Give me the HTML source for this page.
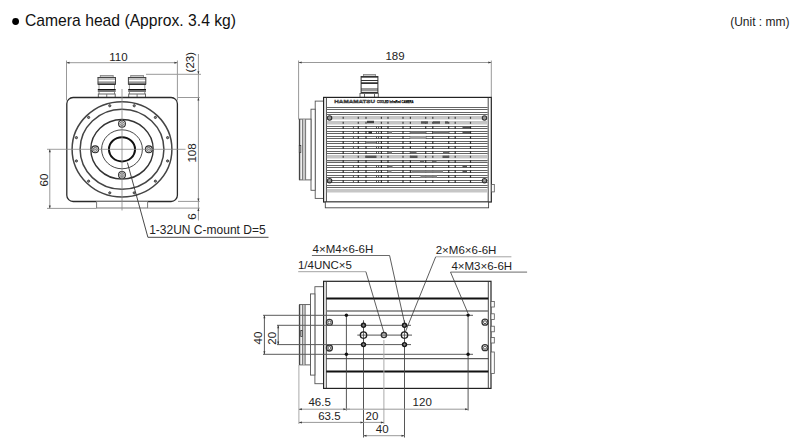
<!DOCTYPE html>
<html><head><meta charset="utf-8"><style>html,body{margin:0;padding:0;background:#fff;width:804px;height:444px;overflow:hidden}svg{display:block}text{font-family:"Liberation Sans",sans-serif}</style></head>
<body><svg width="804" height="444" font-family="Liberation Sans, sans-serif"><circle cx="15.6" cy="21.5" r="3.4" stroke="#333" stroke-width="0" fill="#000"/>
<text x="25" y="26.2" font-size="15.7" text-anchor="start" fill="#111">Camera head (Approx. 3.4 kg)</text>
<text x="789.5" y="26.3" font-size="12" text-anchor="end" fill="#222">(Unit : mm)</text>
<rect x="100.3" y="75.5" width="12.900000000000006" height="1.5" stroke="#888" stroke-width="0.9" fill="#fff" rx="0"/>
<rect x="97.8" y="77" width="17.900000000000006" height="1" fill="#444"/>
<rect x="97.8" y="78.6" width="17.900000000000006" height="0.8" fill="#666"/>
<rect x="97.8" y="81" width="17.900000000000006" height="1" fill="#bbb"/>
<rect x="97.8" y="82" width="17.900000000000006" height="1" fill="#999"/>
<rect x="97.8" y="83" width="17.900000000000006" height="1" fill="#777"/>
<rect x="97.8" y="84" width="17.900000000000006" height="1" fill="#333"/>
<rect x="97.5" y="77" width="1" height="7.5" fill="#444"/>
<rect x="115.0" y="77" width="1" height="7.5" fill="#444"/>
<rect x="98.5" y="85" width="1" height="4" fill="#999"/>
<rect x="114.0" y="85" width="1" height="4" fill="#999"/>
<rect x="97.8" y="89" width="17.900000000000006" height="1.6" fill="#111"/>
<rect x="97.8" y="91" width="17.900000000000006" height="1" fill="#777"/>
<rect x="98.5" y="92" width="1" height="2" fill="#888"/>
<rect x="114.0" y="92" width="1" height="2" fill="#888"/>
<rect x="98.3" y="94" width="16.900000000000006" height="3.4" stroke="#555" stroke-width="0.9" fill="#fff" rx="0"/>
<rect x="106.25" y="94" width="1" height="3.4" fill="#777"/>
<rect x="130.7" y="75.5" width="12.800000000000011" height="1.5" stroke="#888" stroke-width="0.9" fill="#fff" rx="0"/>
<rect x="128.2" y="77" width="17.80000000000001" height="1" fill="#444"/>
<rect x="128.2" y="78.6" width="17.80000000000001" height="0.8" fill="#666"/>
<rect x="128.2" y="81" width="17.80000000000001" height="1" fill="#bbb"/>
<rect x="128.2" y="82" width="17.80000000000001" height="1" fill="#999"/>
<rect x="128.2" y="83" width="17.80000000000001" height="1" fill="#777"/>
<rect x="128.2" y="84" width="17.80000000000001" height="1" fill="#333"/>
<rect x="127.89999999999999" y="77" width="1" height="7.5" fill="#444"/>
<rect x="145.3" y="77" width="1" height="7.5" fill="#444"/>
<rect x="128.89999999999998" y="85" width="1" height="4" fill="#999"/>
<rect x="144.3" y="85" width="1" height="4" fill="#999"/>
<rect x="128.2" y="89" width="17.80000000000001" height="1.6" fill="#111"/>
<rect x="128.2" y="91" width="17.80000000000001" height="1" fill="#777"/>
<rect x="128.89999999999998" y="92" width="1" height="2" fill="#888"/>
<rect x="144.3" y="92" width="1" height="2" fill="#888"/>
<rect x="128.7" y="94" width="16.80000000000001" height="3.4" stroke="#555" stroke-width="0.9" fill="#fff" rx="0"/>
<rect x="136.6" y="94" width="1" height="3.4" fill="#777"/>
<rect x="66.8" y="97.5" width="110.6" height="104" stroke="#2a2a2a" stroke-width="1.3" fill="#fff" rx="6.3"/>
<rect x="96.6" y="201.5" width="51" height="6.5" stroke="#777" stroke-width="1" fill="#fff" rx="0"/>
<ellipse cx="122" cy="149.3" rx="49.9" ry="47.65" stroke="#444" stroke-width="1.5" fill="none"/>
<circle cx="134.22" cy="105.76" r="1.1" stroke="#333" stroke-width="0.9" fill="#888"/>
<circle cx="155.38" cy="117.43" r="1.1" stroke="#333" stroke-width="0.9" fill="#888"/>
<circle cx="167.59" cy="137.63" r="1.1" stroke="#333" stroke-width="0.9" fill="#888"/>
<circle cx="167.59" cy="160.97" r="1.1" stroke="#333" stroke-width="0.9" fill="#888"/>
<circle cx="155.38" cy="181.17" r="1.1" stroke="#333" stroke-width="0.9" fill="#888"/>
<circle cx="134.22" cy="192.84" r="1.1" stroke="#333" stroke-width="0.9" fill="#888"/>
<circle cx="109.78" cy="192.84" r="1.1" stroke="#333" stroke-width="0.9" fill="#888"/>
<circle cx="88.62" cy="181.17" r="1.1" stroke="#333" stroke-width="0.9" fill="#888"/>
<circle cx="76.41" cy="160.97" r="1.1" stroke="#333" stroke-width="0.9" fill="#888"/>
<circle cx="76.41" cy="137.63" r="1.1" stroke="#333" stroke-width="0.9" fill="#888"/>
<circle cx="88.62" cy="117.43" r="1.1" stroke="#333" stroke-width="0.9" fill="#888"/>
<circle cx="109.78" cy="105.76" r="1.1" stroke="#333" stroke-width="0.9" fill="#888"/>
<ellipse cx="122" cy="149.3" rx="41.9" ry="40.01" stroke="#444" stroke-width="1.5" fill="none"/>
<ellipse cx="122" cy="149.3" rx="31.2" ry="29.8" stroke="#333" stroke-width="1.4" fill="none"/>
<circle cx="122.0" cy="123.71" r="3.4" stroke="#2a2a2a" stroke-width="1.1" fill="#fff"/>
<polygon points="124.20,123.71 123.10,125.61 120.90,125.61 119.80,123.71 120.90,121.80 123.10,121.80" stroke="#444" stroke-width="0.7" fill="none"/>
<path d="M120.80,122.51 L123.20,124.91 M123.20,122.51 L120.80,124.91" stroke="#666" stroke-width="0.6"/>
<circle cx="148.8" cy="149.3" r="3.4" stroke="#2a2a2a" stroke-width="1.1" fill="#fff"/>
<polygon points="151.00,149.30 149.90,151.21 147.70,151.21 146.60,149.30 147.70,147.39 149.90,147.39" stroke="#444" stroke-width="0.7" fill="none"/>
<path d="M147.60,148.10 L150.00,150.50 M150.00,148.10 L147.60,150.50" stroke="#666" stroke-width="0.6"/>
<circle cx="122.0" cy="174.89" r="3.4" stroke="#2a2a2a" stroke-width="1.1" fill="#fff"/>
<polygon points="124.20,174.89 123.10,176.80 120.90,176.80 119.80,174.89 120.90,172.99 123.10,172.99" stroke="#444" stroke-width="0.7" fill="none"/>
<path d="M120.80,173.69 L123.20,176.09 M123.20,173.69 L120.80,176.09" stroke="#666" stroke-width="0.6"/>
<circle cx="95.2" cy="149.3" r="3.4" stroke="#2a2a2a" stroke-width="1.1" fill="#fff"/>
<polygon points="97.40,149.30 96.30,151.21 94.10,151.21 93.00,149.30 94.10,147.39 96.30,147.39" stroke="#444" stroke-width="0.7" fill="none"/>
<path d="M94.00,148.10 L96.40,150.50 M96.40,148.10 L94.00,150.50" stroke="#666" stroke-width="0.6"/>
<ellipse cx="122" cy="149.3" rx="20.4" ry="19.48" stroke="#333" stroke-width="0.9" fill="none"/>
<ellipse cx="122" cy="149.3" rx="13.05" ry="12.14" stroke="#111" stroke-width="2.0" fill="none"/>
<line x1="122" y1="89" x2="122" y2="210.5" stroke="#888" stroke-width="0.8"/>
<line x1="47" y1="149.3" x2="185.5" y2="149.3" stroke="#888" stroke-width="0.8"/>
<line x1="66.5" y1="60.5" x2="66.5" y2="100.5" stroke="#999" stroke-width="1.0"/>
<line x1="177.4" y1="60.5" x2="177.4" y2="100.5" stroke="#999" stroke-width="1.0"/>
<line x1="66.5" y1="62.7" x2="177.4" y2="62.7" stroke="#999" stroke-width="1.0"/>
<path d="M66.5,62.7 L69.5,61.7 L69.5,63.7 Z" fill="#3a3a3a"/>
<path d="M177.4,62.7 L174.4,61.7 L174.4,63.7 Z" fill="#3a3a3a"/>
<text x="109.2" y="60.6" font-size="11.5" text-anchor="start" fill="#222">110</text>
<line x1="198.4" y1="54" x2="198.4" y2="220.5" stroke="#999" stroke-width="1.0"/>
<line x1="146" y1="74.3" x2="201" y2="74.3" stroke="#999" stroke-width="1.0"/>
<line x1="178" y1="97.5" x2="199.8" y2="97.5" stroke="#999" stroke-width="1.0"/>
<line x1="178" y1="201.4" x2="199.8" y2="201.4" stroke="#999" stroke-width="1.0"/>
<line x1="147.8" y1="208.1" x2="199.8" y2="208.1" stroke="#999" stroke-width="1.0"/>
<path d="M198.4,74.3 L197.4,71.3 L199.4,71.3 Z" fill="#3a3a3a"/>
<path d="M198.4,97.5 L197.4,100.5 L199.4,100.5 Z" fill="#3a3a3a"/>
<path d="M198.4,201.4 L197.4,198.4 L199.4,198.4 Z" fill="#3a3a3a"/>
<path d="M198.4,208.1 L197.4,211.1 L199.4,211.1 Z" fill="#3a3a3a"/>
<text x="193.9" y="62.2" font-size="11.5" text-anchor="middle" fill="#222" transform="rotate(-90 193.9 62.2)">(23)</text>
<text x="196.3" y="153" font-size="11.5" text-anchor="middle" fill="#222" transform="rotate(-90 196.3 153)">108</text>
<text x="196.3" y="216.5" font-size="11.5" text-anchor="middle" fill="#222" transform="rotate(-90 196.3 216.5)">6</text>
<line x1="49.8" y1="149.3" x2="49.8" y2="208.4" stroke="#999" stroke-width="1.0"/>
<line x1="47" y1="208.4" x2="96.6" y2="208.4" stroke="#999" stroke-width="1.0"/>
<path d="M49.8,149.3 L48.8,152.3 L50.8,152.3 Z" fill="#3a3a3a"/>
<path d="M49.8,208.4 L48.8,205.4 L50.8,205.4 Z" fill="#3a3a3a"/>
<text x="47.5" y="180" font-size="11.5" text-anchor="middle" fill="#222" transform="rotate(-90 47.5 180)">60</text>
<line x1="127.4" y1="162.6" x2="147.9" y2="237.3" stroke="#333" stroke-width="0.9"/>
<line x1="147.9" y1="237.3" x2="268.5" y2="237.3" stroke="#333" stroke-width="0.9"/>
<text x="149.2" y="234.4" font-size="12" text-anchor="start" fill="#222">1-32UN C-mount D=5</text>
<line x1="298.6" y1="60.5" x2="298.6" y2="119.5" stroke="#999" stroke-width="1.0"/>
<line x1="491.3" y1="60.5" x2="491.3" y2="97" stroke="#999" stroke-width="1.0"/>
<line x1="298.6" y1="62.5" x2="491.3" y2="62.5" stroke="#999" stroke-width="1.0"/>
<path d="M298.6,62.5 L301.6,61.5 L301.6,63.5 Z" fill="#3a3a3a"/>
<path d="M491.3,62.5 L488.3,61.5 L488.3,63.5 Z" fill="#3a3a3a"/>
<text x="395" y="59.6" font-size="11.5" text-anchor="middle" fill="#222">189</text>
<rect x="363" y="74" width="13" height="2" fill="#fff"/>
<rect x="363.5" y="74.5" width="12" height="1.5" stroke="#888" stroke-width="0.9" fill="none" rx="0"/>
<rect x="361" y="76" width="17" height="16.5" fill="#fff"/>
<rect x="361" y="76" width="17" height="1" fill="#333"/>
<rect x="361" y="77" width="17" height="1" fill="#777"/>
<rect x="361" y="80" width="17" height="1" fill="#333"/>
<rect x="361" y="82" width="17" height="1" fill="#666"/>
<rect x="361" y="83" width="17" height="1" fill="#333"/>
<rect x="361" y="88" width="17" height="3.3" fill="#999"/>
<rect x="361" y="92" width="17" height="1" fill="#333"/>
<rect x="360.6" y="76" width="1" height="17" fill="#333"/>
<rect x="377.4" y="76" width="1" height="17" fill="#333"/>
<rect x="360" y="93.5" width="18.3" height="3.8" stroke="#555" stroke-width="0.9" fill="#fff" rx="0"/>
<rect x="364" y="93.5" width="1" height="4" fill="#666"/>
<rect x="374" y="93.5" width="1" height="4" fill="#666"/>
<rect x="315.2" y="101.1" width="8.3" height="97.3" stroke="#555" stroke-width="0.9" fill="#fff" rx="0"/>
<rect x="311" y="109.2" width="4.2" height="81.1" stroke="#555" stroke-width="0.9" fill="#fff" rx="0"/>
<rect x="299.4" y="119.1" width="11.6" height="60.8" stroke="#555" stroke-width="0.9" fill="#fff" rx="0"/>
<rect x="302.5" y="119.6" width="3" height="59.8" fill="#c8c8c8"/>
<line x1="299.6" y1="119.3" x2="299.6" y2="179.8" stroke="#444" stroke-width="1.4"/>
<line x1="302.4" y1="119.3" x2="302.4" y2="179.8" stroke="#555" stroke-width="0.8"/>
<line x1="305.6" y1="119.3" x2="305.6" y2="179.8" stroke="#555" stroke-width="0.8"/>
<rect x="299.3" y="145.5" width="1.5" height="7" stroke="#333" stroke-width="0.8" fill="#fff" rx="0"/>
<rect x="323.6" y="97.4" width="167.7" height="104.6" stroke="#222" stroke-width="1.2" fill="#fff" rx="0"/>
<line x1="326.4" y1="97.4" x2="326.4" y2="202" stroke="#333" stroke-width="0.9"/>
<line x1="488.2" y1="97.4" x2="488.2" y2="202" stroke="#333" stroke-width="0.9"/>
<rect x="325.3" y="202" width="163.3" height="5.8" stroke="#444" stroke-width="0.9" fill="#fff" rx="0"/>
<rect x="491.5" y="184.5" width="2.8" height="7.4" stroke="#555" stroke-width="0.8" fill="#fff" rx="0"/>
<text x="334.3" y="102.7" font-size="4.4" font-weight="bold" fill="#777" textLength="40.8" lengthAdjust="spacingAndGlyphs" stroke="#333" stroke-width="0.35">HAMAMATSU</text>
<text x="377" y="102.6" font-size="4.0" font-weight="bold" fill="#000" textLength="36.5" lengthAdjust="spacingAndGlyphs" stroke="#000" stroke-width="0.25">COOLED InfraRed CAMERA</text>
<line x1="326.9" y1="107.5" x2="487.7" y2="107.5" stroke="#666" stroke-width="1"/>
<line x1="326.9" y1="109.5" x2="487.7" y2="109.5" stroke="#666" stroke-width="1"/>
<line x1="326.9" y1="112.5" x2="487.7" y2="112.5" stroke="#666" stroke-width="1"/>
<line x1="326.9" y1="114.5" x2="487.7" y2="114.5" stroke="#666" stroke-width="1"/>
<line x1="326.9" y1="185.5" x2="487.7" y2="185.5" stroke="#666" stroke-width="1"/>
<line x1="326.9" y1="187.5" x2="487.7" y2="187.5" stroke="#666" stroke-width="1"/>
<rect x="326.9" y="116" width="160.8" height="3.5" fill="#c6c6c6"/>
<rect x="326.9" y="121" width="160.8" height="3.5" fill="#c6c6c6"/>
<rect x="326.9" y="155" width="160.8" height="3.5" fill="#c6c6c6"/>
<rect x="326.9" y="189" width="160.8" height="3.5" fill="#c6c6c6"/>
<rect x="326.9" y="160" width="160.8" height="3" fill="#d0d0d0"/>
<line x1="326.9" y1="126.5" x2="487.7" y2="126.5" stroke="#666" stroke-width="1"/>
<line x1="326.9" y1="128.5" x2="487.7" y2="128.5" stroke="#666" stroke-width="1"/>
<line x1="326.9" y1="131.5" x2="487.7" y2="131.5" stroke="#666" stroke-width="1"/>
<line x1="326.9" y1="133.5" x2="487.7" y2="133.5" stroke="#666" stroke-width="1"/>
<line x1="326.9" y1="136.5" x2="487.7" y2="136.5" stroke="#666" stroke-width="1"/>
<line x1="326.9" y1="138.5" x2="487.7" y2="138.5" stroke="#666" stroke-width="1"/>
<line x1="326.9" y1="141.5" x2="487.7" y2="141.5" stroke="#666" stroke-width="1"/>
<line x1="326.9" y1="143.5" x2="487.7" y2="143.5" stroke="#666" stroke-width="1"/>
<line x1="326.9" y1="146.5" x2="487.7" y2="146.5" stroke="#666" stroke-width="1"/>
<line x1="326.9" y1="148.5" x2="487.7" y2="148.5" stroke="#666" stroke-width="1"/>
<line x1="326.9" y1="151.5" x2="487.7" y2="151.5" stroke="#666" stroke-width="1"/>
<line x1="326.9" y1="153.5" x2="487.7" y2="153.5" stroke="#666" stroke-width="1"/>
<line x1="326.9" y1="160.5" x2="487.7" y2="160.5" stroke="#666" stroke-width="1"/>
<line x1="326.9" y1="162.5" x2="487.7" y2="162.5" stroke="#666" stroke-width="1"/>
<line x1="326.9" y1="165.5" x2="487.7" y2="165.5" stroke="#666" stroke-width="1"/>
<line x1="326.9" y1="167.5" x2="487.7" y2="167.5" stroke="#666" stroke-width="1"/>
<line x1="326.9" y1="170.5" x2="487.7" y2="170.5" stroke="#666" stroke-width="1"/>
<line x1="326.9" y1="172.5" x2="487.7" y2="172.5" stroke="#666" stroke-width="1"/>
<line x1="326.9" y1="175.5" x2="487.7" y2="175.5" stroke="#666" stroke-width="1"/>
<line x1="326.9" y1="177.5" x2="487.7" y2="177.5" stroke="#666" stroke-width="1"/>
<line x1="326.9" y1="180.5" x2="487.7" y2="180.5" stroke="#666" stroke-width="1"/>
<line x1="326.9" y1="182.5" x2="487.7" y2="182.5" stroke="#666" stroke-width="1"/>
<rect x="342.59999999999997" y="126.0" width="1.2" height="3" fill="#333"/>
<rect x="342.59999999999997" y="131.0" width="1.2" height="3" fill="#333"/>
<rect x="342.59999999999997" y="136.0" width="1.2" height="3" fill="#333"/>
<rect x="342.59999999999997" y="141.0" width="1.2" height="3" fill="#333"/>
<rect x="342.59999999999997" y="146.0" width="1.2" height="3" fill="#333"/>
<rect x="342.59999999999997" y="151.0" width="1.2" height="3" fill="#333"/>
<rect x="342.59999999999997" y="160.0" width="1.2" height="3" fill="#333"/>
<rect x="342.59999999999997" y="165.0" width="1.2" height="3" fill="#333"/>
<rect x="342.59999999999997" y="170.0" width="1.2" height="3" fill="#333"/>
<rect x="342.59999999999997" y="175.0" width="1.2" height="3" fill="#333"/>
<rect x="342.59999999999997" y="180.0" width="1.2" height="3" fill="#333"/>
<rect x="342.59999999999997" y="116.8" width="1.2" height="2" fill="#444"/>
<rect x="342.59999999999997" y="121.8" width="1.2" height="2" fill="#444"/>
<rect x="342.59999999999997" y="155.8" width="1.2" height="2" fill="#444"/>
<rect x="357.7" y="126.0" width="1.2" height="3" fill="#333"/>
<rect x="357.7" y="131.0" width="1.2" height="3" fill="#333"/>
<rect x="357.7" y="136.0" width="1.2" height="3" fill="#333"/>
<rect x="357.7" y="141.0" width="1.2" height="3" fill="#333"/>
<rect x="357.7" y="146.0" width="1.2" height="3" fill="#333"/>
<rect x="357.7" y="151.0" width="1.2" height="3" fill="#333"/>
<rect x="357.7" y="160.0" width="1.2" height="3" fill="#333"/>
<rect x="357.7" y="165.0" width="1.2" height="3" fill="#333"/>
<rect x="357.7" y="170.0" width="1.2" height="3" fill="#333"/>
<rect x="357.7" y="175.0" width="1.2" height="3" fill="#333"/>
<rect x="357.7" y="180.0" width="1.2" height="3" fill="#333"/>
<rect x="357.7" y="116.8" width="1.2" height="2" fill="#444"/>
<rect x="357.7" y="121.8" width="1.2" height="2" fill="#444"/>
<rect x="357.7" y="155.8" width="1.2" height="2" fill="#444"/>
<rect x="365.4" y="126.0" width="1.2" height="3" fill="#333"/>
<rect x="365.4" y="131.0" width="1.2" height="3" fill="#333"/>
<rect x="365.4" y="136.0" width="1.2" height="3" fill="#333"/>
<rect x="365.4" y="141.0" width="1.2" height="3" fill="#333"/>
<rect x="365.4" y="146.0" width="1.2" height="3" fill="#333"/>
<rect x="365.4" y="151.0" width="1.2" height="3" fill="#333"/>
<rect x="365.4" y="160.0" width="1.2" height="3" fill="#333"/>
<rect x="365.4" y="165.0" width="1.2" height="3" fill="#333"/>
<rect x="365.4" y="170.0" width="1.2" height="3" fill="#333"/>
<rect x="365.4" y="175.0" width="1.2" height="3" fill="#333"/>
<rect x="365.4" y="180.0" width="1.2" height="3" fill="#333"/>
<rect x="365.4" y="116.8" width="1.2" height="2" fill="#444"/>
<rect x="365.4" y="121.8" width="1.2" height="2" fill="#444"/>
<rect x="365.4" y="155.8" width="1.2" height="2" fill="#444"/>
<rect x="380.79999999999995" y="126.0" width="1.2" height="3" fill="#333"/>
<rect x="380.79999999999995" y="131.0" width="1.2" height="3" fill="#333"/>
<rect x="380.79999999999995" y="136.0" width="1.2" height="3" fill="#333"/>
<rect x="380.79999999999995" y="141.0" width="1.2" height="3" fill="#333"/>
<rect x="380.79999999999995" y="146.0" width="1.2" height="3" fill="#333"/>
<rect x="380.79999999999995" y="151.0" width="1.2" height="3" fill="#333"/>
<rect x="380.79999999999995" y="160.0" width="1.2" height="3" fill="#333"/>
<rect x="380.79999999999995" y="165.0" width="1.2" height="3" fill="#333"/>
<rect x="380.79999999999995" y="170.0" width="1.2" height="3" fill="#333"/>
<rect x="380.79999999999995" y="175.0" width="1.2" height="3" fill="#333"/>
<rect x="380.79999999999995" y="180.0" width="1.2" height="3" fill="#333"/>
<rect x="380.79999999999995" y="116.8" width="1.2" height="2" fill="#444"/>
<rect x="380.79999999999995" y="121.8" width="1.2" height="2" fill="#444"/>
<rect x="380.79999999999995" y="155.8" width="1.2" height="2" fill="#444"/>
<rect x="387.4" y="126.0" width="1.2" height="3" fill="#333"/>
<rect x="387.4" y="131.0" width="1.2" height="3" fill="#333"/>
<rect x="387.4" y="136.0" width="1.2" height="3" fill="#333"/>
<rect x="387.4" y="141.0" width="1.2" height="3" fill="#333"/>
<rect x="387.4" y="146.0" width="1.2" height="3" fill="#333"/>
<rect x="387.4" y="151.0" width="1.2" height="3" fill="#333"/>
<rect x="387.4" y="160.0" width="1.2" height="3" fill="#333"/>
<rect x="387.4" y="165.0" width="1.2" height="3" fill="#333"/>
<rect x="387.4" y="170.0" width="1.2" height="3" fill="#333"/>
<rect x="387.4" y="175.0" width="1.2" height="3" fill="#333"/>
<rect x="387.4" y="180.0" width="1.2" height="3" fill="#333"/>
<rect x="387.4" y="116.8" width="1.2" height="2" fill="#444"/>
<rect x="387.4" y="121.8" width="1.2" height="2" fill="#444"/>
<rect x="387.4" y="155.8" width="1.2" height="2" fill="#444"/>
<rect x="402.4" y="126.0" width="1.2" height="3" fill="#333"/>
<rect x="402.4" y="131.0" width="1.2" height="3" fill="#333"/>
<rect x="402.4" y="136.0" width="1.2" height="3" fill="#333"/>
<rect x="402.4" y="141.0" width="1.2" height="3" fill="#333"/>
<rect x="402.4" y="146.0" width="1.2" height="3" fill="#333"/>
<rect x="402.4" y="151.0" width="1.2" height="3" fill="#333"/>
<rect x="402.4" y="160.0" width="1.2" height="3" fill="#333"/>
<rect x="402.4" y="165.0" width="1.2" height="3" fill="#333"/>
<rect x="402.4" y="170.0" width="1.2" height="3" fill="#333"/>
<rect x="402.4" y="175.0" width="1.2" height="3" fill="#333"/>
<rect x="402.4" y="180.0" width="1.2" height="3" fill="#333"/>
<rect x="402.4" y="116.8" width="1.2" height="2" fill="#444"/>
<rect x="402.4" y="121.8" width="1.2" height="2" fill="#444"/>
<rect x="402.4" y="155.8" width="1.2" height="2" fill="#444"/>
<rect x="409.79999999999995" y="126.0" width="1.2" height="3" fill="#333"/>
<rect x="409.79999999999995" y="131.0" width="1.2" height="3" fill="#333"/>
<rect x="409.79999999999995" y="136.0" width="1.2" height="3" fill="#333"/>
<rect x="409.79999999999995" y="141.0" width="1.2" height="3" fill="#333"/>
<rect x="409.79999999999995" y="146.0" width="1.2" height="3" fill="#333"/>
<rect x="409.79999999999995" y="151.0" width="1.2" height="3" fill="#333"/>
<rect x="409.79999999999995" y="160.0" width="1.2" height="3" fill="#333"/>
<rect x="409.79999999999995" y="165.0" width="1.2" height="3" fill="#333"/>
<rect x="409.79999999999995" y="170.0" width="1.2" height="3" fill="#333"/>
<rect x="409.79999999999995" y="175.0" width="1.2" height="3" fill="#333"/>
<rect x="409.79999999999995" y="180.0" width="1.2" height="3" fill="#333"/>
<rect x="409.79999999999995" y="116.8" width="1.2" height="2" fill="#444"/>
<rect x="409.79999999999995" y="121.8" width="1.2" height="2" fill="#444"/>
<rect x="409.79999999999995" y="155.8" width="1.2" height="2" fill="#444"/>
<rect x="425.09999999999997" y="126.0" width="1.2" height="3" fill="#333"/>
<rect x="425.09999999999997" y="131.0" width="1.2" height="3" fill="#333"/>
<rect x="425.09999999999997" y="136.0" width="1.2" height="3" fill="#333"/>
<rect x="425.09999999999997" y="141.0" width="1.2" height="3" fill="#333"/>
<rect x="425.09999999999997" y="146.0" width="1.2" height="3" fill="#333"/>
<rect x="425.09999999999997" y="151.0" width="1.2" height="3" fill="#333"/>
<rect x="425.09999999999997" y="160.0" width="1.2" height="3" fill="#333"/>
<rect x="425.09999999999997" y="165.0" width="1.2" height="3" fill="#333"/>
<rect x="425.09999999999997" y="170.0" width="1.2" height="3" fill="#333"/>
<rect x="425.09999999999997" y="175.0" width="1.2" height="3" fill="#333"/>
<rect x="425.09999999999997" y="180.0" width="1.2" height="3" fill="#333"/>
<rect x="425.09999999999997" y="116.8" width="1.2" height="2" fill="#444"/>
<rect x="425.09999999999997" y="121.8" width="1.2" height="2" fill="#444"/>
<rect x="425.09999999999997" y="155.8" width="1.2" height="2" fill="#444"/>
<rect x="432.2" y="126.0" width="1.2" height="3" fill="#333"/>
<rect x="432.2" y="131.0" width="1.2" height="3" fill="#333"/>
<rect x="432.2" y="136.0" width="1.2" height="3" fill="#333"/>
<rect x="432.2" y="141.0" width="1.2" height="3" fill="#333"/>
<rect x="432.2" y="146.0" width="1.2" height="3" fill="#333"/>
<rect x="432.2" y="151.0" width="1.2" height="3" fill="#333"/>
<rect x="432.2" y="160.0" width="1.2" height="3" fill="#333"/>
<rect x="432.2" y="165.0" width="1.2" height="3" fill="#333"/>
<rect x="432.2" y="170.0" width="1.2" height="3" fill="#333"/>
<rect x="432.2" y="175.0" width="1.2" height="3" fill="#333"/>
<rect x="432.2" y="180.0" width="1.2" height="3" fill="#333"/>
<rect x="432.2" y="116.8" width="1.2" height="2" fill="#444"/>
<rect x="432.2" y="121.8" width="1.2" height="2" fill="#444"/>
<rect x="432.2" y="155.8" width="1.2" height="2" fill="#444"/>
<rect x="448.09999999999997" y="126.0" width="1.2" height="3" fill="#333"/>
<rect x="448.09999999999997" y="131.0" width="1.2" height="3" fill="#333"/>
<rect x="448.09999999999997" y="136.0" width="1.2" height="3" fill="#333"/>
<rect x="448.09999999999997" y="141.0" width="1.2" height="3" fill="#333"/>
<rect x="448.09999999999997" y="146.0" width="1.2" height="3" fill="#333"/>
<rect x="448.09999999999997" y="151.0" width="1.2" height="3" fill="#333"/>
<rect x="448.09999999999997" y="160.0" width="1.2" height="3" fill="#333"/>
<rect x="448.09999999999997" y="165.0" width="1.2" height="3" fill="#333"/>
<rect x="448.09999999999997" y="170.0" width="1.2" height="3" fill="#333"/>
<rect x="448.09999999999997" y="175.0" width="1.2" height="3" fill="#333"/>
<rect x="448.09999999999997" y="180.0" width="1.2" height="3" fill="#333"/>
<rect x="448.09999999999997" y="116.8" width="1.2" height="2" fill="#444"/>
<rect x="448.09999999999997" y="121.8" width="1.2" height="2" fill="#444"/>
<rect x="448.09999999999997" y="155.8" width="1.2" height="2" fill="#444"/>
<rect x="454.59999999999997" y="126.0" width="1.2" height="3" fill="#333"/>
<rect x="454.59999999999997" y="131.0" width="1.2" height="3" fill="#333"/>
<rect x="454.59999999999997" y="136.0" width="1.2" height="3" fill="#333"/>
<rect x="454.59999999999997" y="141.0" width="1.2" height="3" fill="#333"/>
<rect x="454.59999999999997" y="146.0" width="1.2" height="3" fill="#333"/>
<rect x="454.59999999999997" y="151.0" width="1.2" height="3" fill="#333"/>
<rect x="454.59999999999997" y="160.0" width="1.2" height="3" fill="#333"/>
<rect x="454.59999999999997" y="165.0" width="1.2" height="3" fill="#333"/>
<rect x="454.59999999999997" y="170.0" width="1.2" height="3" fill="#333"/>
<rect x="454.59999999999997" y="175.0" width="1.2" height="3" fill="#333"/>
<rect x="454.59999999999997" y="180.0" width="1.2" height="3" fill="#333"/>
<rect x="454.59999999999997" y="116.8" width="1.2" height="2" fill="#444"/>
<rect x="454.59999999999997" y="121.8" width="1.2" height="2" fill="#444"/>
<rect x="454.59999999999997" y="155.8" width="1.2" height="2" fill="#444"/>
<rect x="469.9" y="126.0" width="1.2" height="3" fill="#333"/>
<rect x="469.9" y="131.0" width="1.2" height="3" fill="#333"/>
<rect x="469.9" y="136.0" width="1.2" height="3" fill="#333"/>
<rect x="469.9" y="141.0" width="1.2" height="3" fill="#333"/>
<rect x="469.9" y="146.0" width="1.2" height="3" fill="#333"/>
<rect x="469.9" y="151.0" width="1.2" height="3" fill="#333"/>
<rect x="469.9" y="160.0" width="1.2" height="3" fill="#333"/>
<rect x="469.9" y="165.0" width="1.2" height="3" fill="#333"/>
<rect x="469.9" y="170.0" width="1.2" height="3" fill="#333"/>
<rect x="469.9" y="175.0" width="1.2" height="3" fill="#333"/>
<rect x="469.9" y="180.0" width="1.2" height="3" fill="#333"/>
<rect x="469.9" y="116.8" width="1.2" height="2" fill="#444"/>
<rect x="469.9" y="121.8" width="1.2" height="2" fill="#444"/>
<rect x="469.9" y="155.8" width="1.2" height="2" fill="#444"/>
<rect x="352.9" y="126.0" width="1" height="3" fill="#555"/>
<rect x="352.9" y="131.0" width="1" height="3" fill="#555"/>
<rect x="352.9" y="136.0" width="1" height="3" fill="#555"/>
<rect x="352.9" y="141.0" width="1" height="3" fill="#555"/>
<rect x="352.9" y="146.0" width="1" height="3" fill="#555"/>
<rect x="352.9" y="151.0" width="1" height="3" fill="#555"/>
<rect x="352.9" y="165.0" width="1" height="3" fill="#555"/>
<rect x="352.9" y="170.0" width="1" height="3" fill="#555"/>
<rect x="352.9" y="175.0" width="1" height="3" fill="#555"/>
<rect x="352.9" y="180.0" width="1" height="3" fill="#555"/>
<rect x="376.0" y="126.0" width="1" height="3" fill="#555"/>
<rect x="376.0" y="131.0" width="1" height="3" fill="#555"/>
<rect x="376.0" y="136.0" width="1" height="3" fill="#555"/>
<rect x="376.0" y="141.0" width="1" height="3" fill="#555"/>
<rect x="376.0" y="146.0" width="1" height="3" fill="#555"/>
<rect x="376.0" y="151.0" width="1" height="3" fill="#555"/>
<rect x="376.0" y="165.0" width="1" height="3" fill="#555"/>
<rect x="376.0" y="170.0" width="1" height="3" fill="#555"/>
<rect x="376.0" y="175.0" width="1" height="3" fill="#555"/>
<rect x="376.0" y="180.0" width="1" height="3" fill="#555"/>
<rect x="378.1" y="126.0" width="1" height="3" fill="#555"/>
<rect x="378.1" y="131.0" width="1" height="3" fill="#555"/>
<rect x="378.1" y="136.0" width="1" height="3" fill="#555"/>
<rect x="378.1" y="141.0" width="1" height="3" fill="#555"/>
<rect x="378.1" y="146.0" width="1" height="3" fill="#555"/>
<rect x="378.1" y="151.0" width="1" height="3" fill="#555"/>
<rect x="378.1" y="165.0" width="1" height="3" fill="#555"/>
<rect x="378.1" y="170.0" width="1" height="3" fill="#555"/>
<rect x="378.1" y="175.0" width="1" height="3" fill="#555"/>
<rect x="378.1" y="180.0" width="1" height="3" fill="#555"/>
<rect x="367" y="120.8" width="7" height="2.4" fill="#444"/>
<rect x="368.5" y="131.3" width="3.5" height="2.4" fill="#333"/>
<rect x="388.5" y="131.3" width="3.5" height="2.4" fill="#888"/>
<rect x="366" y="141.3" width="10" height="2.4" fill="#888"/>
<rect x="388.5" y="151.3" width="3.5" height="2.4" fill="#777"/>
<rect x="365.5" y="155.60000000000002" width="11.0" height="2.4" fill="#555"/>
<rect x="410" y="131.3" width="16" height="2.4" fill="#777"/>
<rect x="433" y="131.3" width="16" height="2.4" fill="#777"/>
<rect x="410" y="136.3" width="16" height="2.4" fill="#aaa"/>
<rect x="462.5" y="126.3" width="7.5" height="2.4" fill="#555"/>
<rect x="462.5" y="131.3" width="7.5" height="2.4" fill="#555"/>
<rect x="410" y="151.3" width="6.5" height="2.4" fill="#666"/>
<rect x="443" y="151.3" width="6" height="2.4" fill="#666"/>
<rect x="410" y="155.60000000000002" width="7.5" height="2.4" fill="#555"/>
<rect x="442.5" y="155.60000000000002" width="6.5" height="2.4" fill="#555"/>
<rect x="420" y="160.3" width="4" height="2.4" fill="#666"/>
<rect x="432" y="160.3" width="4.5" height="2.4" fill="#666"/>
<rect x="388.5" y="165.3" width="4.0" height="2.4" fill="#777"/>
<rect x="462.5" y="165.3" width="4.5" height="2.4" fill="#555"/>
<rect x="388" y="170.3" width="3.5" height="2.4" fill="#888"/>
<rect x="411.5" y="170.3" width="31.5" height="2.4" fill="#888"/>
<rect x="462.5" y="170.3" width="4.5" height="2.4" fill="#555"/>
<rect x="420.5" y="175.3" width="16.5" height="2.4" fill="#888"/>
<rect x="421" y="121.3" width="7" height="2.4" fill="#555"/>
<rect x="433" y="121.3" width="7" height="2.4" fill="#555"/>
<rect x="445" y="121.3" width="3" height="2.4" fill="#555"/>
<circle cx="329.6" cy="118" r="2.1" stroke="#333" stroke-width="1.3" fill="#fff"/>
<circle cx="329.6" cy="118" r="0.9" stroke="#555" stroke-width="0.9" fill="none"/>
<circle cx="484.5" cy="118" r="2.1" stroke="#333" stroke-width="1.3" fill="#fff"/>
<circle cx="484.5" cy="118" r="0.9" stroke="#555" stroke-width="0.9" fill="none"/>
<circle cx="329.6" cy="180.8" r="2.1" stroke="#333" stroke-width="1.3" fill="#fff"/>
<circle cx="329.6" cy="180.8" r="0.9" stroke="#555" stroke-width="0.9" fill="none"/>
<circle cx="484.5" cy="180.8" r="2.1" stroke="#333" stroke-width="1.3" fill="#fff"/>
<circle cx="484.5" cy="180.8" r="0.9" stroke="#555" stroke-width="0.9" fill="none"/>
<rect x="314.9" y="286.7" width="8.6" height="97" stroke="#555" stroke-width="0.9" fill="#fff" rx="0"/>
<rect x="310.5" y="293.9" width="4.4" height="81.2" stroke="#555" stroke-width="0.9" fill="#fff" rx="0"/>
<rect x="299.4" y="304.6" width="11.1" height="60.3" stroke="#555" stroke-width="0.9" fill="#fff" rx="0"/>
<rect x="302.5" y="305" width="2.6" height="59.5" fill="#c8c8c8"/>
<line x1="299.6" y1="304.8" x2="299.6" y2="364.8" stroke="#444" stroke-width="1.4"/>
<line x1="302.4" y1="304.8" x2="302.4" y2="364.8" stroke="#555" stroke-width="0.8"/>
<line x1="305.2" y1="304.8" x2="305.2" y2="364.8" stroke="#555" stroke-width="0.8"/>
<rect x="300.8" y="330.5" width="1.4" height="6" stroke="#333" stroke-width="0.8" fill="#fff" rx="0"/>
<rect x="323.6" y="281.3" width="167.4" height="107.1" stroke="#222" stroke-width="1.2" fill="#fff" rx="0"/>
<line x1="326.3" y1="281.3" x2="326.3" y2="388.4" stroke="#333" stroke-width="0.9"/>
<line x1="488.3" y1="281.3" x2="488.3" y2="388.4" stroke="#333" stroke-width="0.9"/>
<line x1="326.3" y1="298.5" x2="488.3" y2="298.5" stroke="#111" stroke-width="2.0"/>
<line x1="326.3" y1="371.6" x2="488.3" y2="371.6" stroke="#111" stroke-width="2.0"/>
<line x1="326.3" y1="310.9" x2="488.3" y2="310.9" stroke="#777" stroke-width="1.5"/>
<line x1="326.3" y1="358.7" x2="488.3" y2="358.7" stroke="#333" stroke-width="1.0"/>
<rect x="491" y="301.4" width="3.3" height="5.600000000000023" stroke="#555" stroke-width="0.8" fill="#fff" rx="0"/>
<rect x="491" y="313.8" width="3.3" height="5.599999999999966" stroke="#555" stroke-width="0.8" fill="#fff" rx="0"/>
<rect x="491" y="326.2" width="3.3" height="5.600000000000023" stroke="#555" stroke-width="0.8" fill="#fff" rx="0"/>
<rect x="491" y="337.4" width="3.3" height="5.600000000000023" stroke="#555" stroke-width="0.8" fill="#fff" rx="0"/>
<rect x="491" y="352" width="3.3" height="21.5" stroke="#555" stroke-width="0.8" fill="#fff" rx="0"/>
<circle cx="329.4" cy="322.4" r="3.0" stroke="#333" stroke-width="1.3" fill="#fff"/>
<circle cx="329.4" cy="322.4" r="1.5" stroke="#444" stroke-width="0.9" fill="none"/>
<circle cx="329.4" cy="348" r="3.0" stroke="#333" stroke-width="1.3" fill="#fff"/>
<circle cx="329.4" cy="348" r="1.5" stroke="#444" stroke-width="0.9" fill="none"/>
<circle cx="485" cy="322.2" r="3.0" stroke="#333" stroke-width="1.3" fill="#fff"/>
<circle cx="485" cy="322.2" r="1.5" stroke="#444" stroke-width="0.9" fill="none"/>
<circle cx="485" cy="347.7" r="3.0" stroke="#333" stroke-width="1.3" fill="#fff"/>
<circle cx="485" cy="347.7" r="1.5" stroke="#444" stroke-width="0.9" fill="none"/>
<line x1="263" y1="315.3" x2="473" y2="315.3" stroke="#5a5a5a" stroke-width="1.0"/>
<line x1="263" y1="354.3" x2="473" y2="354.3" stroke="#5a5a5a" stroke-width="1.0"/>
<line x1="277" y1="325.3" x2="411" y2="325.3" stroke="#5a5a5a" stroke-width="1.0"/>
<line x1="277" y1="344.6" x2="411" y2="344.6" stroke="#5a5a5a" stroke-width="1.0"/>
<line x1="357.3" y1="335.1" x2="412" y2="335.1" stroke="#555" stroke-width="1.0"/>
<line x1="346.4" y1="315.3" x2="346.4" y2="410.5" stroke="#444" stroke-width="0.9"/>
<line x1="363.5" y1="320.3" x2="363.5" y2="437.5" stroke="#444" stroke-width="0.9"/>
<line x1="383.9" y1="340" x2="383.9" y2="424" stroke="#aaa" stroke-width="1.0"/>
<line x1="404.5" y1="320.3" x2="404.5" y2="437.5" stroke="#444" stroke-width="0.9"/>
<line x1="468.1" y1="315" x2="468.1" y2="410.5" stroke="#444" stroke-width="0.9"/>
<line x1="298.9" y1="365" x2="298.9" y2="424" stroke="#aaa" stroke-width="1.0"/>
<circle cx="346.4" cy="315.3" r="1.7" stroke="#333" stroke-width="0" fill="#111"/>
<circle cx="346.4" cy="354.3" r="1.7" stroke="#333" stroke-width="0" fill="#111"/>
<circle cx="468.1" cy="315.1" r="1.7" stroke="#333" stroke-width="0" fill="#111"/>
<circle cx="468.1" cy="354.3" r="1.7" stroke="#333" stroke-width="0" fill="#111"/>
<circle cx="363.5" cy="325.3" r="2.1" stroke="#1a1a1a" stroke-width="1.2" fill="#333"/>
<line x1="362.1" y1="325.3" x2="364.9" y2="325.3" stroke="#999" stroke-width="0.6"/>
<line x1="363.5" y1="323.90000000000003" x2="363.5" y2="326.7" stroke="#999" stroke-width="0.6"/>
<circle cx="404.5" cy="325.3" r="2.1" stroke="#1a1a1a" stroke-width="1.2" fill="#333"/>
<line x1="403.1" y1="325.3" x2="405.9" y2="325.3" stroke="#999" stroke-width="0.6"/>
<line x1="404.5" y1="323.90000000000003" x2="404.5" y2="326.7" stroke="#999" stroke-width="0.6"/>
<circle cx="363.5" cy="344.6" r="2.1" stroke="#1a1a1a" stroke-width="1.2" fill="#333"/>
<line x1="362.1" y1="344.6" x2="364.9" y2="344.6" stroke="#999" stroke-width="0.6"/>
<line x1="363.5" y1="343.20000000000005" x2="363.5" y2="346.0" stroke="#999" stroke-width="0.6"/>
<circle cx="404.5" cy="344.6" r="2.1" stroke="#1a1a1a" stroke-width="1.2" fill="#333"/>
<line x1="403.1" y1="344.6" x2="405.9" y2="344.6" stroke="#999" stroke-width="0.6"/>
<line x1="404.5" y1="343.20000000000005" x2="404.5" y2="346.0" stroke="#999" stroke-width="0.6"/>
<circle cx="363.5" cy="335.1" r="3.2" stroke="#1a1a1a" stroke-width="1.3" fill="#fff"/>
<line x1="360.3" y1="335.1" x2="366.7" y2="335.1" stroke="#444" stroke-width="0.8"/>
<line x1="363.5" y1="331.9" x2="363.5" y2="338.3" stroke="#444" stroke-width="0.8"/>
<circle cx="404.5" cy="335.1" r="3.2" stroke="#1a1a1a" stroke-width="1.3" fill="#fff"/>
<line x1="401.3" y1="335.1" x2="407.7" y2="335.1" stroke="#444" stroke-width="0.8"/>
<line x1="404.5" y1="331.9" x2="404.5" y2="338.3" stroke="#444" stroke-width="0.8"/>
<circle cx="383.9" cy="335.1" r="2.6" stroke="#333" stroke-width="1.3" fill="#ddd"/>
<line x1="381.3" y1="335.1" x2="386.5" y2="335.1" stroke="#444" stroke-width="0.9"/>
<line x1="264.4" y1="315.3" x2="264.4" y2="354.3" stroke="#5a5a5a" stroke-width="1.0"/>
<path d="M264.4,315.3 L263.4,318.3 L265.4,318.3 Z" fill="#3a3a3a"/>
<path d="M264.4,354.3 L263.4,351.3 L265.4,351.3 Z" fill="#3a3a3a"/>
<line x1="278.2" y1="325.3" x2="278.2" y2="344.6" stroke="#5a5a5a" stroke-width="1.0"/>
<path d="M278.2,325.3 L277.2,328.3 L279.2,328.3 Z" fill="#3a3a3a"/>
<path d="M278.2,344.6 L277.2,341.6 L279.2,341.6 Z" fill="#3a3a3a"/>
<text x="262.4" y="338" font-size="11.5" text-anchor="middle" fill="#222" transform="rotate(-90 262.4 338)">40</text>
<text x="276.3" y="338.3" font-size="11.5" text-anchor="middle" fill="#222" transform="rotate(-90 276.3 338.3)">20</text>
<line x1="298.9" y1="409.2" x2="350" y2="409.2" stroke="#999" stroke-width="1.0"/>
<path d="M298.9,409.2 L301.9,408.2 L301.9,410.2 Z" fill="#3a3a3a"/>
<path d="M346.4,409.2 L343.4,408.2 L343.4,410.2 Z" fill="#3a3a3a"/>
<text x="319.6" y="406.4" font-size="11.5" text-anchor="middle" fill="#222">46.5</text>
<line x1="346.4" y1="409.2" x2="468.1" y2="409.2" stroke="#999" stroke-width="1.0"/>
<path d="M468.1,409.2 L465.1,408.2 L465.1,410.2 Z" fill="#3a3a3a"/>
<text x="422.2" y="406.4" font-size="11.5" text-anchor="middle" fill="#222">120</text>
<line x1="298.9" y1="422.4" x2="384" y2="422.4" stroke="#999" stroke-width="1.0"/>
<path d="M298.9,422.4 L301.9,421.4 L301.9,423.4 Z" fill="#3a3a3a"/>
<path d="M363.5,422.4 L360.5,421.4 L360.5,423.4 Z" fill="#3a3a3a"/>
<path d="M383.9,422.4 L380.9,421.4 L380.9,423.4 Z" fill="#3a3a3a"/>
<text x="329.4" y="420.2" font-size="11.5" text-anchor="middle" fill="#222">63.5</text>
<text x="371.9" y="420.2" font-size="11.5" text-anchor="middle" fill="#222">20</text>
<line x1="363.5" y1="435.7" x2="404.5" y2="435.7" stroke="#999" stroke-width="1.0"/>
<path d="M363.5,435.7 L366.5,434.7 L366.5,436.7 Z" fill="#3a3a3a"/>
<path d="M404.5,435.7 L401.5,434.7 L401.5,436.7 Z" fill="#3a3a3a"/>
<text x="382.2" y="433.4" font-size="11.5" text-anchor="middle" fill="#222">40</text>
<text x="312.6" y="253" font-size="11.5" text-anchor="start" fill="#222">4×M4×6-6H</text>
<line x1="311.9" y1="255.5" x2="389.6" y2="255.5" stroke="#444" stroke-width="0.8"/>
<line x1="389.6" y1="255.5" x2="404.5" y2="322.8" stroke="#333" stroke-width="0.8"/>
<text x="297.9" y="269.2" font-size="11.5" text-anchor="start" fill="#222">1/4UNC×5</text>
<line x1="298.2" y1="271.7" x2="365.9" y2="271.7" stroke="#999" stroke-width="0.9"/>
<line x1="365.9" y1="271.7" x2="383.9" y2="332.5" stroke="#333" stroke-width="0.8"/>
<text x="435.7" y="253.8" font-size="11.5" text-anchor="start" fill="#222">2×M6×6-6H</text>
<line x1="435.7" y1="256.8" x2="511.4" y2="256.8" stroke="#999" stroke-width="0.9"/>
<line x1="435.7" y1="256.8" x2="405.3" y2="332" stroke="#333" stroke-width="0.8"/>
<text x="451.4" y="269.5" font-size="11.5" text-anchor="start" fill="#222">4×M3×6-6H</text>
<line x1="450.5" y1="272.1" x2="527.1" y2="272.1" stroke="#444" stroke-width="0.8"/>
<line x1="450.5" y1="272.1" x2="468.1" y2="313.5" stroke="#333" stroke-width="0.8"/></svg></body></html>
